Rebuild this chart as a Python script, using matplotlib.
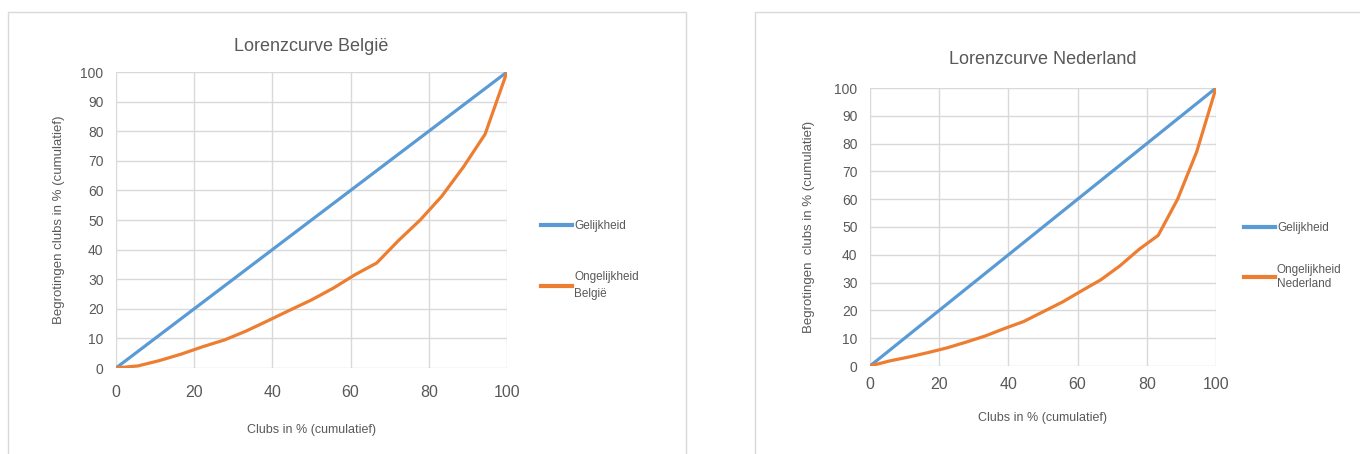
import matplotlib
matplotlib.use('Agg')
import matplotlib.pyplot as plt
from matplotlib.patches import Rectangle

# clubs cumulatief in % (18 clubs per competitie)
clubs_pct = [0, 5.6, 11.1, 16.7, 22.2, 27.8, 33.3, 38.9, 44.4, 50.0,
             55.6, 61.1, 66.7, 72.2, 77.8, 83.3, 88.9, 94.4, 100]

gelijkheid = [0, 5.6, 11.1, 16.7, 22.2, 27.8, 33.3, 38.9, 44.4, 50.0,
              55.6, 61.1, 66.7, 72.2, 77.8, 83.3, 88.9, 94.4, 100]

ongelijk_belgie = [0, 0.7, 2.5, 4.7, 7.2, 9.5, 12.5, 16.0, 19.5, 23.0,
                   27.0, 31.5, 35.5, 43.0, 50.0, 58.0, 68.0, 79.0, 100]

ongelijk_nl = [0, 1.8, 3.2, 4.8, 6.5, 8.6, 10.8, 13.5, 16.0, 19.5,
               23.0, 27.0, 31.0, 36.0, 42.0, 47.0, 60.0, 77.0, 100]

ticks_x = [0, 20, 40, 60, 80, 100]
ticks_y = [0, 10, 20, 30, 40, 50, 60, 70, 80, 90, 100]

BLUE = '#5B9BD5'
ORANGE = '#ED7D31'
GRID = '#D9D9D9'
TXT = '#595959'

plt.rcParams['font.family'] = ['Liberation Sans', 'DejaVu Sans']

fig = plt.figure(figsize=(13.6, 4.54), dpi=100)

# kaders rond de twee grafieken
fig.patches.append(Rectangle((8 / 1360, -0.05), 678 / 1360, 1 - 12 / 454 + 0.05,
                             transform=fig.transFigure, fill=False,
                             edgecolor=GRID, linewidth=1))
fig.patches.append(Rectangle((755 / 1360, -0.05), 700 / 1360, 1 - 12 / 454 + 0.05,
                             transform=fig.transFigure, fill=False,
                             edgecolor=GRID, linewidth=1))


def lorenz(rect, title, ongelijk, label2, tpad, xpad, ylab_x, xlab_y,
           leg_anchor, lspace, linesp):
    ax = fig.add_axes(rect)
    ax.plot(clubs_pct, gelijkheid, color=BLUE, lw=2.3, label='Gelijkheid')
    ax.plot(clubs_pct, ongelijk, color=ORANGE, lw=2.3, label=label2)
    ax.set_xlim(0, 100)
    ax.set_ylim(0, 100)
    ax.set_xticks(ticks_x)
    ax.set_yticks(ticks_y)
    ax.grid(True, color=GRID, lw=1)
    ax.set_axisbelow(True)
    for s in ax.spines.values():
        s.set_visible(False)
    ax.tick_params(axis='both', length=0, colors=TXT)
    ax.tick_params(axis='x', labelsize=11.5, pad=xpad)
    ax.tick_params(axis='y', labelsize=10, pad=9)
    ax.set_title(title, fontsize=13, color=TXT, pad=tpad)
    ax.set_xlabel('Clubs in % (cumulatief)', fontsize=9, color=TXT)
    ax.set_ylabel(label_y, fontsize=9.5, color=TXT)
    ax.xaxis.set_label_coords(0.5, xlab_y)
    ax.yaxis.set_label_coords(ylab_x, 0.5)
    leg = ax.legend(loc='center left', bbox_to_anchor=leg_anchor, frameon=False,
                    fontsize=8.5, handlelength=2.6, handletextpad=0.2,
                    labelspacing=lspace, labelcolor=TXT)
    for t in leg.get_texts():
        t.set_linespacing(linesp)
    for h in leg.get_lines():
        h.set_linewidth(3)
    return ax


label_y = 'Begrotingen clubs in % (cumulatief)'
lorenz([116 / 1360, 86 / 454, 391 / 1360, 296 / 454], 'Lorenzcurve België',
       ongelijk_belgie, 'Ongelijkheid\nBelgië', 15, 12, -0.13, -0.19,
       (1.06, 0.365), 3.3, 1.6)
label_y = 'Begrotingen  clubs in % (cumulatief)'
lorenz([870 / 1360, 88 / 454, 346 / 1360, 278 / 454], 'Lorenzcurve Nederland',
       ongelijk_nl, 'Ongelijkheid\nNederland', 17, 8, -0.16, -0.165,
       (1.05, 0.395), 2.5, 1.3)

fig.savefig('out.png', dpi=100)
